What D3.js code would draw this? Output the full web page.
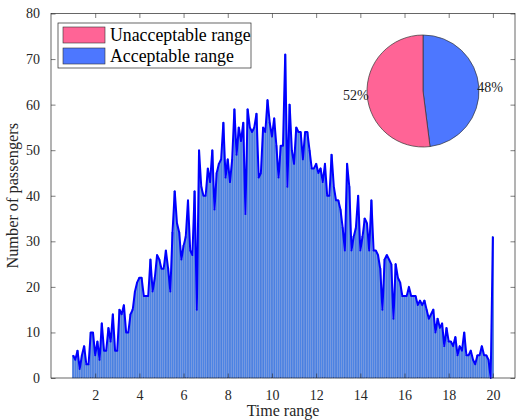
<!DOCTYPE html>
<html>
<head>
<meta charset="utf-8">
<script src="https://cdn.jsdelivr.net/npm/d3@7"></script>
<style>
  body { margin: 0; background: #fff; }
  svg { display: block; font-family: "Liberation Serif", "Times New Roman", serif; }
</style>
</head>
<body>
<svg width="516" height="420"></svg>
<script>
// passengers per 0.1-wide time bin, starting at 1.0
var binStart = 1, binWidth = 0.1;
var passengers = [
  5, 4, 6, 2, 5, 7, 3, 3, 10, 10,
  5, 8, 4, 12, 6, 6, 11, 8, 14, 6,
  6, 15, 14, 16, 10, 10, 14, 15, 19, 21,
  22, 22, 18, 18, 18, 26, 19, 22, 27, 26,
  24, 24, 28, 24, 19, 32, 41, 34, 32, 26,
  29, 31, 39, 28, 27, 41, 15, 50, 42, 40,
  40, 46, 43, 50, 37, 45, 47, 48, 56, 44,
  48, 43, 48, 59, 49, 55, 52, 56, 36, 59,
  55, 54, 55, 58, 44, 45, 55, 54, 61, 56,
  53, 57, 51, 44, 51, 51, 71, 42, 60, 50,
  47, 55, 54, 54, 48, 54, 54, 50, 46, 46,
  47, 45, 46, 43, 47, 40, 40, 49, 42, 39,
  39, 37, 33, 28, 47, 42, 28, 31, 33, 40,
  28, 31, 35, 34, 28, 39, 28, 28, 27, 24,
  15, 26, 27, 26, 25, 13, 25, 22, 21, 18,
  18, 18, 20, 18, 18, 18, 16, 17, 16, 17,
  15, 13, 14, 15, 10, 13, 11, 12, 7, 11,
  8, 8, 7, 9, 5, 7, 6, 10, 5, 5,
  6, 4, 3, 5, 5, 7, 5, 5, 4, 0,
  31
];
var xTicks = [2, 4, 6, 8, 10, 12, 14, 16, 18, 20];
var yTicks = [0, 10, 20, 30, 40, 50, 60, 70, 80];
var shareLabels = ["Unacceptable range", "Acceptable range"];
var shareValues = [52, 48];
var shareColors = ["#ff6496", "#4d77ff"];

var svg = d3.select("svg"),
    margin = {top: 13.5, right: 1, bottom: 42, left: 51},
    width = 516 - margin.left - margin.right,
    height = 420 - margin.top - margin.bottom,
    g = svg.append("g").attr("transform", "translate(" + margin.left + "," + margin.top + ")");

var data = passengers.map(function (v, i) {
    return {t: binStart + i * binWidth, v: v};
});

var x = d3.scaleLinear().domain([0, 21]).range([0, width]);
var y = d3.scaleLinear().domain([0, 80]).range([height, 0]);
var barW = x(binWidth * 0.8) - x(0);

g.append("g")
    .selectAll("rect")
    .data(data)
    .enter().append("rect")
    .attr("x", function (d) { return x(d.t) - barW / 2; })
    .attr("y", function (d) { return y(d.v); })
    .attr("width", barW)
    .attr("height", function (d) { return height - y(d.v); })
    .attr("fill", "#4d84e4")
    .attr("stroke", "#3560c8")
    .attr("stroke-width", 0.25);

g.append("path")
    .datum(data)
    .attr("fill", "none")
    .attr("stroke", "#0000ff")
    .attr("stroke-width", 2)
    .attr("stroke-linejoin", "round")
    .attr("d", d3.line().x(function (d) { return x(d.t); }).y(function (d) { return y(d.v); }));

// axes, box and inward ticks on all four sides
var tk = 4.5, axisColor = "#262626";
function styleAxis(sel) {
    sel.select(".domain").remove();
    sel.selectAll(".tick line").attr("stroke", axisColor).attr("stroke-width", 0.6);
    sel.selectAll(".tick text").attr("fill", axisColor).attr("font-size", 14)
        .attr("font-family", "Liberation Serif, serif");
}
g.append("g").attr("transform", "translate(0," + height + ")")
    .call(d3.axisBottom(x).tickValues(xTicks).tickSizeInner(-tk).tickSizeOuter(0).tickPadding(12))
    .call(styleAxis);
g.append("g")
    .call(d3.axisTop(x).tickValues(xTicks).tickSizeInner(-tk).tickSizeOuter(0).tickFormat(""))
    .call(styleAxis);
g.append("g")
    .call(d3.axisLeft(y).tickValues(yTicks).tickSizeInner(-tk).tickSizeOuter(0).tickPadding(11))
    .call(styleAxis);
g.append("g").attr("transform", "translate(" + width + ",0)")
    .call(d3.axisRight(y).tickValues(yTicks).tickSizeInner(-tk).tickSizeOuter(0).tickFormat(""))
    .call(styleAxis);
g.append("rect")
    .attr("width", width).attr("height", height)
    .attr("fill", "none").attr("stroke", axisColor).attr("stroke-width", 0.7);

g.append("text")
    .attr("x", x(10.5)).attr("y", height + 38)
    .attr("text-anchor", "middle").attr("font-size", 16).attr("fill", axisColor)
    .text("Time range");
g.append("text")
    .attr("transform", "translate(-33," + (height / 2) + ") rotate(-90)")
    .attr("text-anchor", "middle").attr("font-size", 16.3).attr("fill", axisColor)
    .text("Number of passengers");

// legend
var legend = g.append("g").attr("transform", "translate(7,9.5)");
legend.append("rect")
    .attr("width", 193).attr("height", 45)
    .attr("fill", "#fff").attr("stroke", axisColor).attr("stroke-width", 0.7);
var item = legend.selectAll(".item")
    .data(shareLabels)
    .enter().append("g")
    .attr("transform", function (d, i) { return "translate(5," + (4 + i * 21) + ")"; });
item.append("rect")
    .attr("width", 42).attr("height", 16)
    .attr("fill", function (d, i) { return shareColors[i]; })
    .attr("stroke", "#333").attr("stroke-width", 0.6);
item.append("text")
    .attr("x", 47).attr("y", 14)
    .attr("font-size", 17.8).attr("fill", "#000")
    .text(function (d) { return d; });

// pie inset, starts at 12 o'clock, acceptable share first going clockwise
var r = 56;
var pieG = svg.append("g").attr("transform", "translate(423,91)");
var pie = d3.pie().sort(null).value(function (d) { return d.v; });
var slices = pie([{v: shareValues[1], c: shareColors[1]}, {v: shareValues[0], c: shareColors[0]}]);
var arc = d3.arc().innerRadius(0).outerRadius(r);
pieG.selectAll("path")
    .data(slices)
    .enter().append("path")
    .attr("d", arc)
    .attr("fill", function (d) { return d.data.c; })
    .attr("stroke", "#333").attr("stroke-width", 0.7);
pieG.selectAll(".lbl")
    .data(slices)
    .enter().append("text")
    .attr("x", function (d) { return Math.sin((d.startAngle + d.endAngle) / 2) * r * 1.2; })
    .attr("y", function (d) { return -Math.cos((d.startAngle + d.endAngle) / 2) * r * 1.2; })
    .attr("dy", "0.35em")
    .attr("text-anchor", "middle").attr("font-size", 14).attr("fill", "#222")
    .text(function (d) { return d.data.v + "%"; });
</script>
</body>
</html>
